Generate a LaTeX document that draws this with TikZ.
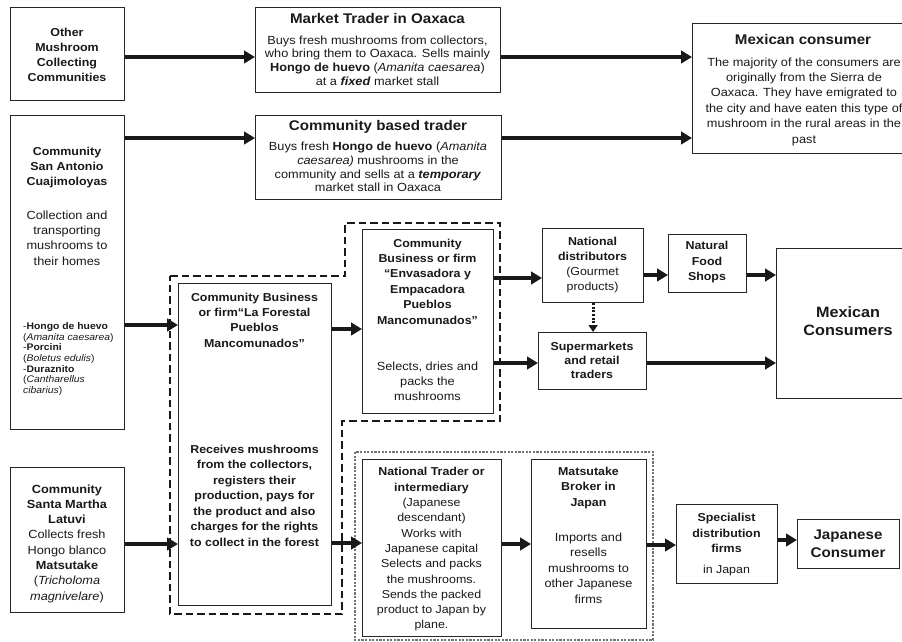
\documentclass[tikz,border=0pt]{standalone}
\usepackage{fontspec}
\setmainfont{Liberation Sans}[FakeStretch=1.08]
\usetikzlibrary{arrows.meta}
\newcommand\fsz[2]{\fontsize{#1}{#2}\selectfont}

\begin{document}
\begin{tikzpicture}[x=1pt,y=-1pt,
  box/.style={draw=black!85, line width=1.2pt, inner sep=0pt, anchor=north west},
  txt/.style={align=center, inner sep=0pt, text=black!90},
  arr/.style={line width=3.7pt, draw=black!90, -{Triangle[length=11pt,width=12.5pt]}},
  dotarr/.style={line width=2.8pt, draw=black!90, dash pattern=on 2pt off 1.6pt, -{Triangle[length=7pt,width=9pt]}},
  groupline/.style={line width=2.6pt, draw=black!90, dash pattern=on 7.5pt off 4pt},
  fineline/.style={line width=1.4pt, draw=black!55, dash pattern=on 2.2pt off 1.4pt}]

\useasboundingbox (0,0) rectangle (902,642);

% ---------- boxes ----------
\node[box, minimum width=114pt, minimum height=93pt]  (other)       at (10,7)    {};
\node[box, minimum width=245pt, minimum height=85pt]  (market)      at (255,7)   {};
\node[box, minimum width=246pt, minimum height=84pt]  (cbt)         at (255,115) {};
\node[box, minimum width=213pt, minimum height=130pt] (mexcons)     at (692,23)  {};
\node[box, minimum width=114pt, minimum height=314pt] (sanantonio)  at (10,115)  {};
\node[box, minimum width=153pt, minimum height=322pt] (forestal)    at (178,283) {};
\node[box, minimum width=131pt, minimum height=184pt] (envasadora)  at (362,229) {};
\node[box, minimum width=101pt, minimum height=74pt]  (natdist)     at (542,228) {};
\node[box, minimum width=78pt,  minimum height=58pt]  (foodshops)   at (668,234) {};
\node[box, minimum width=108pt, minimum height=57pt]  (super)       at (538,332) {};
\node[box, minimum width=129pt, minimum height=150pt] (mexconsb)    at (776,248) {};
\node[box, minimum width=139pt, minimum height=177pt] (nattrader)   at (362,459) {};
\node[box, minimum width=115pt, minimum height=169pt] (broker)      at (531,459) {};
\node[box, minimum width=101pt, minimum height=79pt]  (specialist)  at (676,504) {};
\node[box, minimum width=102pt, minimum height=49pt]  (japcons)     at (797,519) {};
\node[box, minimum width=114pt, minimum height=145pt] (santamartha) at (10,467)  {};

% ---------- group outlines ----------
\draw[groupline] (170,276) -- (345,276) -- (345,223) -- (500,223) -- (500,421)
  -- (342,421) -- (342,614) -- (170,614) -- cycle;
\draw[fineline] (355,452) rectangle (653,640);

% ---------- texts ----------
\node[txt, font=\bfseries\fsz{11.5}{15}] (othertxt) at (67,54.5)
  {Other\\ Mushroom\\ Collecting\\ Communities};

\node[txt, font=\bfseries\fsz{14}{16}] (markettitle) at (377.5,18) {Market Trader in Oaxaca};
\node[txt, font=\fsz{11.8}{13.7}] (marketbody) at (377.5,60.5)
  {Buys fresh mushrooms from collectors,\\ who bring them to Oaxaca. Sells mainly\\
   \textbf{Hongo de huevo} (\textit{Amanita caesarea})\\ at a \textbf{\textit{fixed}} market stall};

\node[txt, font=\bfseries\fsz{14}{16}] (cbttitle) at (378,127) {Community based trader};
\node[txt, font=\fsz{11.8}{13.7}] (cbtbody) at (378,167)
  {Buys fresh \textbf{Hongo de huevo} (\textit{Amanita}\\ \textit{caesarea)} mushrooms in the\\
   community and sells at a \textbf{\textit{temporary}}\\ market stall in Oaxaca};

\node[txt, font=\bfseries\fsz{14}{16}] (mexconstitle) at (803,39) {Mexican consumer};
\node[txt, font=\fsz{11.8}{15.4}] (mexconsbody) at (804,101.5)
  {The majority of the consumers are\\ originally from the Sierra de\\ Oaxaca. They have emigrated to\\
   the city and have eaten this type of\\ mushroom in the rural areas in the\\ past};

\node[txt, font=\bfseries\fsz{11.5}{15}] (satitle) at (67,168)
  {Community\\ San Antonio\\ Cuajimoloyas};
\node[txt, font=\fsz{11.8}{15.3}] (sabody) at (67,238)
  {Collection and\\ transporting\\ mushrooms to\\ their homes};
\node[txt, align=left, anchor=west, font=\fsz{9.6}{10.6}] (species) at (23,359)
  {-\textbf{Hongo de huevo}\\ (\textit{Amanita caesarea})\\ -\textbf{Porcini}\\ (\textit{Boletus edulis})\\
   -\textbf{Duraznito}\\ (\textit{Cantharellus}\\ \textit{cibarius})};

\node[txt, font=\bfseries\fsz{11.5}{15.3}] (forestaltitle) at (254.5,320)
  {Community Business\\ or firm\textquotedblleft La Forestal\\ Pueblos\\ Mancomunados\textquotedblright};
\node[txt, font=\bfseries\fsz{11.5}{15.5}] (forestalbody) at (254.5,495.5)
  {Receives mushrooms\\ from the collectors,\\ registers their\\ production, pays for\\
   the product and also\\ charges for the rights\\ to collect in the forest};

\node[txt, font=\bfseries\fsz{11.5}{15.4}] (envtitle) at (427.5,281.5)
  {Community\\ Business or firm\\ \textquotedblleft Envasadora y\\ Empacadora\\ Pueblos\\ Mancomunados\textquotedblright};
\node[txt, font=\fsz{11.8}{15}] (envbody) at (427.5,381)
  {Selects, dries and\\ packs the\\ mushrooms};

\node[txt, font=\fsz{11.5}{14.7}] (natdisttxt) at (592.5,265)
  {\textbf{National}\\ \textbf{distributors}\\ (Gourmet\\ products)};
\node[txt, font=\bfseries\fsz{11.5}{15.5}] (foodshopstxt) at (707,262.5)
  {Natural\\ Food\\ Shops};
\node[txt, font=\bfseries\fsz{11.5}{14}] (supertxt) at (592,360)
  {Supermarkets\\ and retail\\ traders};
\node[txt, font=\bfseries\fsz{15}{18}] (mexconsbtxt) at (848,321)
  {Mexican\\ Consumers};

\node[txt, font=\fsz{11.5}{15.3}] (nattradertxt) at (431.5,549.5)
  {\textbf{National Trader or}\\ \textbf{intermediary}\\ (Japanese\\ descendant)\\ Works with\\
   Japanese capital\\ Selects and packs\\ the mushrooms.\\ Sends the packed\\ product to Japan by\\ plane.};

\node[txt, font=\bfseries\fsz{11.5}{15.3}] (brokertitle) at (588.5,488)
  {Matsutake\\ Broker in\\ Japan};
\node[txt, font=\fsz{11.8}{15.5}] (brokerbody) at (588.5,568)
  {Imports and\\ resells\\ mushrooms to\\ other Japanese\\ firms};

\node[txt, font=\bfseries\fsz{11.5}{15.5}] (specialisttitle) at (726.5,533)
  {Specialist\\ distribution\\ firms};
\node[txt, font=\fsz{11.5}{14}] (specialistbody) at (726.5,571) {in Japan};

\node[txt, font=\bfseries\fsz{14}{18}] (japconstxt) at (848,544)
  {Japanese\\ Consumer};

\node[txt, font=\fsz{11.8}{15.3}] (santatxt) at (67,543.5)
  {\textbf{Community}\\ \textbf{Santa Martha}\\ \textbf{Latuvi}\\ Collects fresh\\ Hongo blanco\\
   \textbf{Matsutake}\\ (\textit{Tricholoma}\\ \textit{magnivelare})};

% ---------- connectors ----------
\draw[arr] (other.east |- 0,57)        -- (market.west |- 0,57);
\draw[arr] (market.east |- 0,57)       -- (mexcons.west |- 0,57);
\draw[arr] (sanantonio.east |- 0,138)  -- (cbt.west |- 0,138);
\draw[arr] (cbt.east |- 0,138)         -- (mexcons.west |- 0,138);
\draw[arr] (sanantonio.east |- 0,325)  -- (forestal.west |- 0,325);
\draw[arr] (forestal.east |- 0,329)    -- (envasadora.west |- 0,329);
\draw[arr] (envasadora.east |- 0,278)  -- (natdist.west |- 0,278);
\draw[arr] (envasadora.east |- 0,363)  -- (super.west |- 0,363);
\draw[arr] (natdist.east |- 0,275)     -- (foodshops.west |- 0,275);
\draw[arr] (foodshops.east |- 0,275)   -- (mexconsb.west |- 0,275);
\draw[arr] (super.east |- 0,363)       -- (mexconsb.west |- 0,363);
\draw[dotarr] (natdist.south)          -- (natdist.south |- super.north);
\draw[arr] (santamartha.east |- 0,544) -- (forestal.west |- 0,544);
\draw[arr] (forestal.east |- 0,543)    -- (nattrader.west |- 0,543);
\draw[arr] (nattrader.east |- 0,544)   -- (broker.west |- 0,544);
\draw[arr] (broker.east |- 0,545)      -- (specialist.west |- 0,545);
\draw[arr] (specialist.east |- 0,540)  -- (japcons.west |- 0,540);
\end{tikzpicture}
\end{document}
